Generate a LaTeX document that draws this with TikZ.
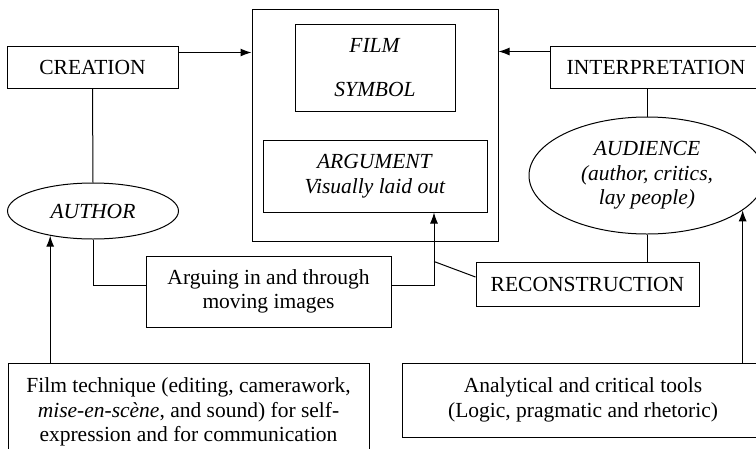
\documentclass[tikz,border=0pt]{standalone}
\usepackage{fontspec}
\setmainfont{Liberation Serif}
\usetikzlibrary{shapes.geometric,arrows.meta}

\begin{document}
\begin{tikzpicture}[x=1pt, y=-1pt, line width=1pt,
		box/.style={draw, line width=1pt, inner sep=0pt, align=center, font=\fontsize{21.5}{24.5}\selectfont},
		oval/.style={box, ellipse},
		arr/.style={-{Latex[length=11pt,width=8pt]}}]
			%%%%% START %%%%%
			
			\useasboundingbox (0, 0) rectangle (756, 448);
			\clip (0, 0) rectangle (756, 448);
			
			\node[box, minimum width=246, minimum height=231.5] (film) at (375, 125.25) {};
			\node[box, minimum width=160, minimum height=87] (symbol) at (375, 67.5) {\textit{FILM}\\[19pt]\textit{SYMBOL}};
			\node[box, minimum width=224, minimum height=72] (argument) at (375, 176) {\textit{ARGUMENT}\\\textit{Visually laid out}};
			
			\node[box, minimum width=171, minimum height=42] (creation) at (92.5, 67) {CREATION};
			\node[oval, minimum width=171, minimum height=56] (author) at (93, 211) {\textit{AUTHOR}};
			
			\node[box, minimum width=212, minimum height=42] (interp) at (656, 67) {INTERPRETATION};
			\node[oval, minimum width=236, minimum height=117] (audience) at (647, 175.5) {\textit{AUDIENCE}\\\textit{(author, critics,}\\\textit{lay people)}};
			
			\node[box, minimum width=245, minimum height=71] (arguing) at (268.5, 291.5) {Arguing in and through\\moving images};
			\node[box, minimum width=223, minimum height=44] (recon) at (587.5, 284) {RECONSTRUCTION};
			
			\node[box, minimum width=361, minimum height=98] (tech) at (188.5, 412) {Film technique (editing, camerawork,\\\textit{mise-en-scène}, and sound) for self-\\expression and for communication};
			\node[box, minimum width=362, minimum height=74] (tools) at (583, 400) {Analytical and critical tools\\(Logic, pragmatic and rhetoric)};
			
			% creation and interpretation feed the film
			\coordinate (cout) at ([yshift=-7pt]creation.north east);
			\coordinate (iout) at ([yshift=-6pt]interp.north west);
			\draw[arr] (cout) -- (cout -| film.west);
			\draw[arr] (iout) -- (iout -| film.east);
			
			\draw (creation.south) -- (author.north);
			\draw (audience.north |- interp.south) -- (audience.north);
			\draw (audience.south) -- (audience.south |- recon.north);
			
			% arguing in the middle
			\draw (author.south) |- ([yshift=6.5pt]arguing.west);
			\draw[arr] ([yshift=6.5pt]arguing.east) -| ([xshift=59pt]argument.south);
			\coordinate (up) at ([xshift=59pt]argument.south);
			\coordinate (split) at (up |- recon.north);
			\draw (split) -- ([yshift=7pt]recon.west);
			
			% tools up to the ovals
			\draw[arr] (author.210 |- tech.north) -- (author.210);
			\draw[arr] (audience.340 |- tools.north) -- (audience.340);
			
			%%%%% END %%%%%
		\end{tikzpicture}
\end{document}
